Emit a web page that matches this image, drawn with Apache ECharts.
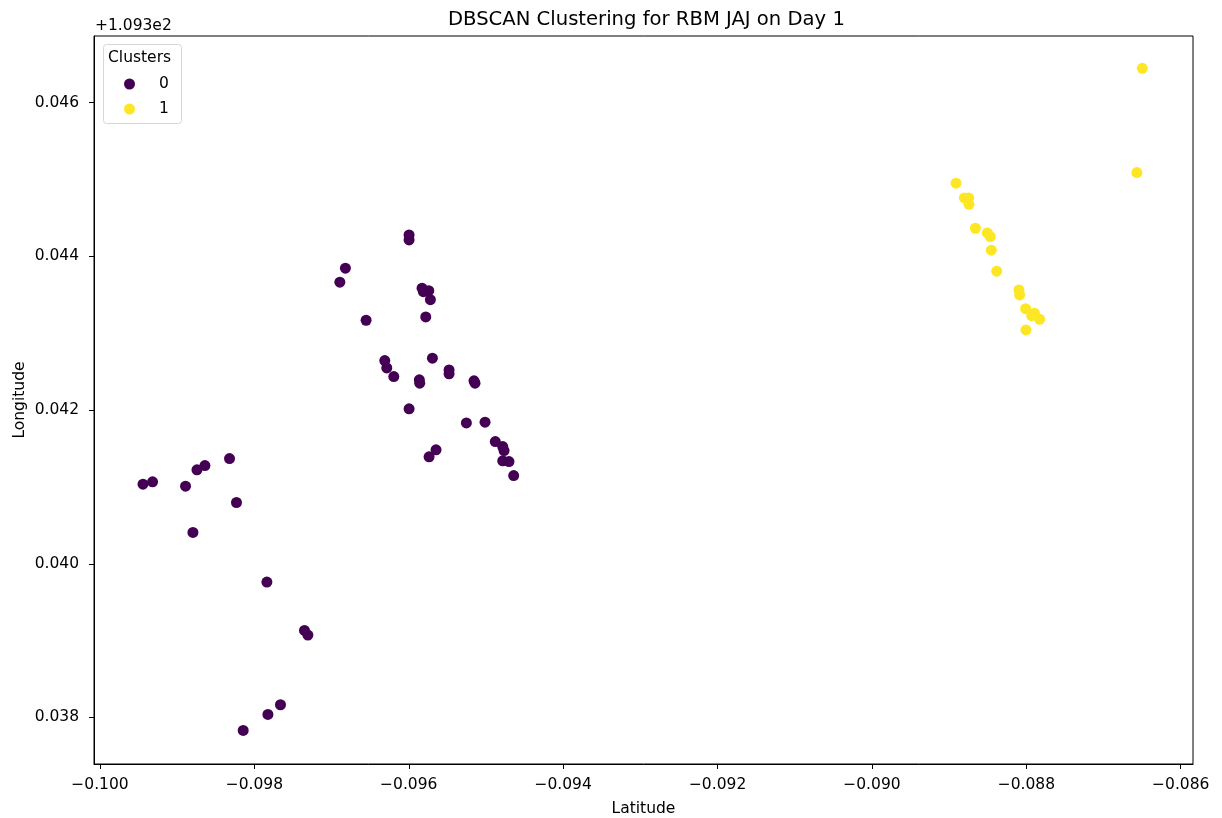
<!DOCTYPE html>
<html>
<head>
<meta charset="utf-8">
<script src="https://cdn.jsdelivr.net/npm/echarts@6/dist/echarts.min.js"></script>
<style>
  html, body { margin: 0; padding: 0; background: #fff; }
  #chart { width: 1222px; height: 818px; }
</style>
</head>
<body>
<div id="chart"></div>
<script>
// values shown relative to the axis offset (+1.093e2 on longitude)
const cluster0Lat = [
  -0.095996, -0.095996, -0.096821, -0.096893, -0.095828, -0.095741, -0.095811, -0.095720,
  -0.096553, -0.095780, -0.095694, -0.096311, -0.096285, -0.096194, -0.095478, -0.095478,
  -0.095863, -0.095858, -0.095155, -0.095142, -0.095996, -0.095254, -0.095012, -0.094879,
  -0.094783, -0.094766, -0.094783, -0.094702, -0.094641, -0.095647, -0.095737, -0.099443,
  -0.099319, -0.098892, -0.098744, -0.098641, -0.098322, -0.098232, -0.098796, -0.097838,
  -0.097351, -0.097307, -0.097662, -0.097825, -0.098145,
]
const cluster0Lon = [
  0.044279, 0.044214, 0.043846, 0.043664, 0.043586, 0.043554, 0.043541, 0.043437,
  0.043169, 0.043212, 0.042675, 0.042644, 0.042549, 0.042436, 0.042523, 0.042471,
  0.042393, 0.042350, 0.042380, 0.042350, 0.042016, 0.041833, 0.041843, 0.041590,
  0.041525, 0.041473, 0.041339, 0.041330, 0.041148, 0.041482, 0.041391, 0.041036,
  0.041066, 0.041010, 0.041222, 0.041278, 0.041369, 0.040797, 0.040407, 0.039761,
  0.039132, 0.039072, 0.038165, 0.038039, 0.037831,
]
const cluster1Lat = [
  -0.086498, -0.086568, -0.088911, -0.088803, -0.088747, -0.088743, -0.088660, -0.088505,
  -0.088466, -0.088453, -0.088384, -0.088096, -0.088087, -0.088009, -0.087931, -0.087896,
  -0.087828, -0.088005,
]
const cluster1Lon = [
  0.046447, 0.045090, 0.044952, 0.044760, 0.044760, 0.044678, 0.044366, 0.044305,
  0.044257, 0.044080, 0.043807, 0.043564, 0.043499, 0.043320, 0.043229, 0.043261,
  0.043182, 0.043043,
]
const clusterNames = ['0', '1']
const xTicks = [-0.1, -0.098, -0.096, -0.094, -0.092, -0.09, -0.088, -0.086]
const yTicks = [0.038, 0.04, 0.042, 0.044, 0.046]
const yOffsetLabel = '+1.093e2'

const font = 'DejaVu Sans'
const pair = (xs, ys) => xs.map((x, i) => [x, ys[i]])
const fmt = (v) => v.toFixed(3).replace('-', '\u2212')

const chart = echarts.init(document.getElementById('chart'))
const option = {
  backgroundColor: '#fff',
  animation: false,
  title: {
    text: 'DBSCAN Clustering for RBM JAJ on Day 1',
    left: 443,
    top: 5,
    textStyle: { fontFamily: font, fontSize: 19.6, fontWeight: 'normal', color: '#000' },
  },
  legend: {
    orient: 'vertical',
    left: 119,
    top: 71,
    itemWidth: 49,
    itemHeight: 11,
    itemGap: 9,
    icon: 'circle',
    textStyle: { fontFamily: font, fontSize: 15.5, color: '#000' },
    data: clusterNames,
  },
  graphic: [
    {
      type: 'rect',
      left: 103,
      top: 44,
      z: 0,
      shape: { width: 78, height: 79, r: 3 },
      style: { fill: '#fff', stroke: '#d6d6d6', lineWidth: 1 },
    },
    {
      type: 'text',
      left: 108,
      top: 50,
      style: { text: 'Clusters', font: '15.5px "DejaVu Sans"', fill: '#000' },
    },
    {
      type: 'text',
      left: 95,
      top: 18,
      style: { text: yOffsetLabel, font: '15.5px "DejaVu Sans"', fill: '#000' },
    },
  ],
  grid: {
    left: 94,
    right: 29,
    top: 36,
    bottom: 54,
    outerBoundsMode: 'none',
    show: true,
    borderColor: '#000',
    borderWidth: 1,
    backgroundColor: 'transparent',
  },
  xAxis: {
    type: 'value',
    min: -0.1000777,
    max: -0.085841,
    name: 'Latitude',
    nameLocation: 'middle',
    nameGap: 37,
    nameMoveOverlap: false,
    nameTextStyle: { fontFamily: font, fontSize: 15.5, color: '#000' },
    splitLine: { show: false },
    axisLine: { onZero: false, lineStyle: { color: '#000' } },
    axisTick: { length: 5, customValues: xTicks, lineStyle: { color: '#000' } },
    axisLabel: {
      customValues: xTicks,
      formatter: fmt,
      margin: 13,
      fontFamily: font,
      fontSize: 15.5,
      color: '#000',
    },
  },
  yAxis: {
    type: 'value',
    min: 0.037394,
    max: 0.046868,
    name: 'Longitude',
    nameLocation: 'middle',
    nameGap: 66,
    nameMoveOverlap: false,
    nameTextStyle: { fontFamily: font, fontSize: 15.5, color: '#000' },
    splitLine: { show: false },
    axisLine: { onZero: false, lineStyle: { color: '#000' } },
    axisTick: { length: 5, customValues: yTicks, lineStyle: { color: '#000' } },
    axisLabel: {
      customValues: yTicks,
      formatter: fmt,
      margin: 15,
      fontFamily: font,
      fontSize: 15.5,
      color: '#000',
    },
  },
  series: [
    {
      name: clusterNames[0],
      type: 'scatter',
      symbol: 'circle',
      symbolSize: 11,
      itemStyle: { color: '#440154', opacity: 1 },
      data: pair(cluster0Lat, cluster0Lon),
    },
    {
      name: clusterNames[1],
      type: 'scatter',
      symbol: 'circle',
      symbolSize: 11,
      itemStyle: { color: '#fde725', opacity: 1 },
      data: pair(cluster1Lat, cluster1Lon),
    },
  ],
}
chart.setOption(option)
</script>
</body>
</html>
